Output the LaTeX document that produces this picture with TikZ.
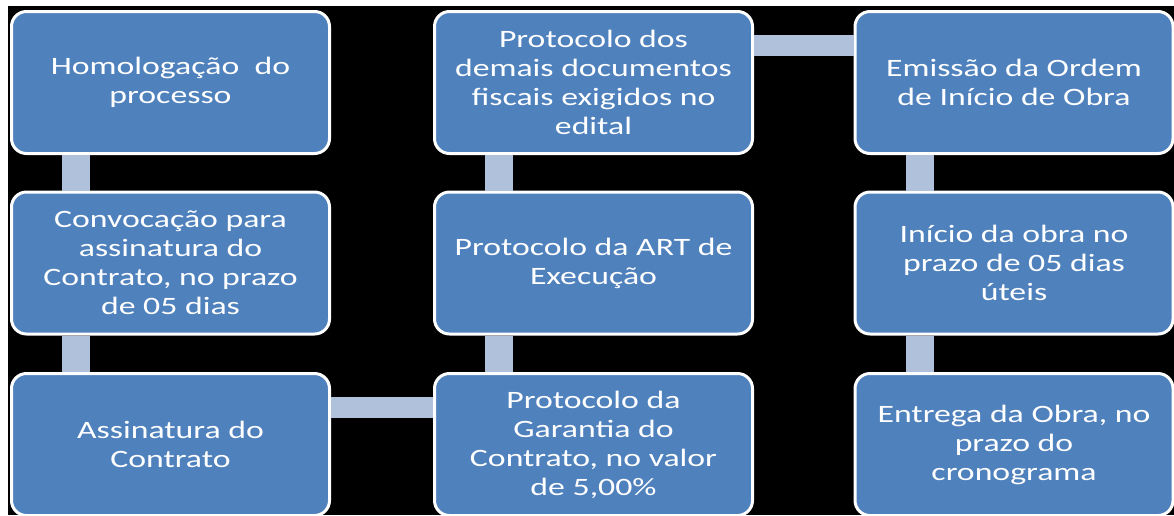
\documentclass[tikz,border=0pt]{standalone}
\usepackage{fontspec}
\setmainfont{Carlito}[FakeStretch=1.35]
\definecolor{caixa}{HTML}{4F81BD}
\definecolor{ligacao}{HTML}{B0C1DC}
\begin{document}
\begin{tikzpicture}[x=1pt, y=-1pt, line join=round,
  etapa/.style={draw=white, line width=3pt, fill=caixa, rounded corners=15pt,
    minimum width=318pt, minimum height=142pt, inner sep=0pt,
    align=center, text=white, font=\fontsize{25}{29}\selectfont},
  vlig/.style={ligacao, line width=28pt},
  hlig/.style={ligacao, line width=21pt}]
% Khoảng lệch của các đường nối
\def\dx{66}
\def\dy{35}
% Nền
\useasboundingbox (0,0) rectangle (1174,515);
\fill[black] (8,6) rectangle (1174,515);
% Cột 1
\node[etapa] (homol) at (170.5,82.5) {Homologação\ \ do\\processo};
\node[etapa] (conv) at (170.5,263) {Convocação para\\assinatura do\\Contrato, no prazo\\de 05 dias};
\node[etapa] (assin) at (170.5,444.5) {Assinatura do\\Contrato};
% Cột 2
\node[etapa] (docs) at (593.5,82.5) {Protocolo dos\\demais documentos\\fiscais exigidos no\\edital};
\node[etapa] (art) at (593.5,263) {Protocolo da ART de\\Execução};
\node[etapa] (garan) at (593.5,444.5) {Protocolo da\\Garantia do\\Contrato, no valor\\de 5,00\%};
% Cột 3
\node[etapa] (emis) at (1014,82.5) {Emissão da Ordem\\de Início de Obra};
\node[etapa] (inic) at (1014,263) {Início da obra no\\prazo de 05 dias\\úteis};
\node[etapa] (entr) at (1014,444.5) {Entrega da Obra, no\\prazo do\\cronograma};
% Đường nối
\draw[vlig] ([xshift=\dx]homol.south west) -- ([xshift=\dx]conv.north west);
\draw[vlig] ([xshift=\dx]conv.south west) -- ([xshift=\dx]assin.north west);
\draw[hlig] ([yshift=-\dy]assin.north east) -- ([yshift=-\dy]garan.north west);
\draw[vlig] ([xshift=\dx]garan.north west) -- ([xshift=\dx]art.south west);
\draw[vlig] ([xshift=\dx]art.north west) -- ([xshift=\dx]docs.south west);
\draw[hlig] ([yshift=-\dy]docs.north east) -- ([yshift=-\dy]emis.north west);
\draw[vlig] ([xshift=\dx]emis.south west) -- ([xshift=\dx]inic.north west);
\draw[vlig] ([xshift=\dx]inic.south west) -- ([xshift=\dx]entr.north west);
\end{tikzpicture}
\end{document}
